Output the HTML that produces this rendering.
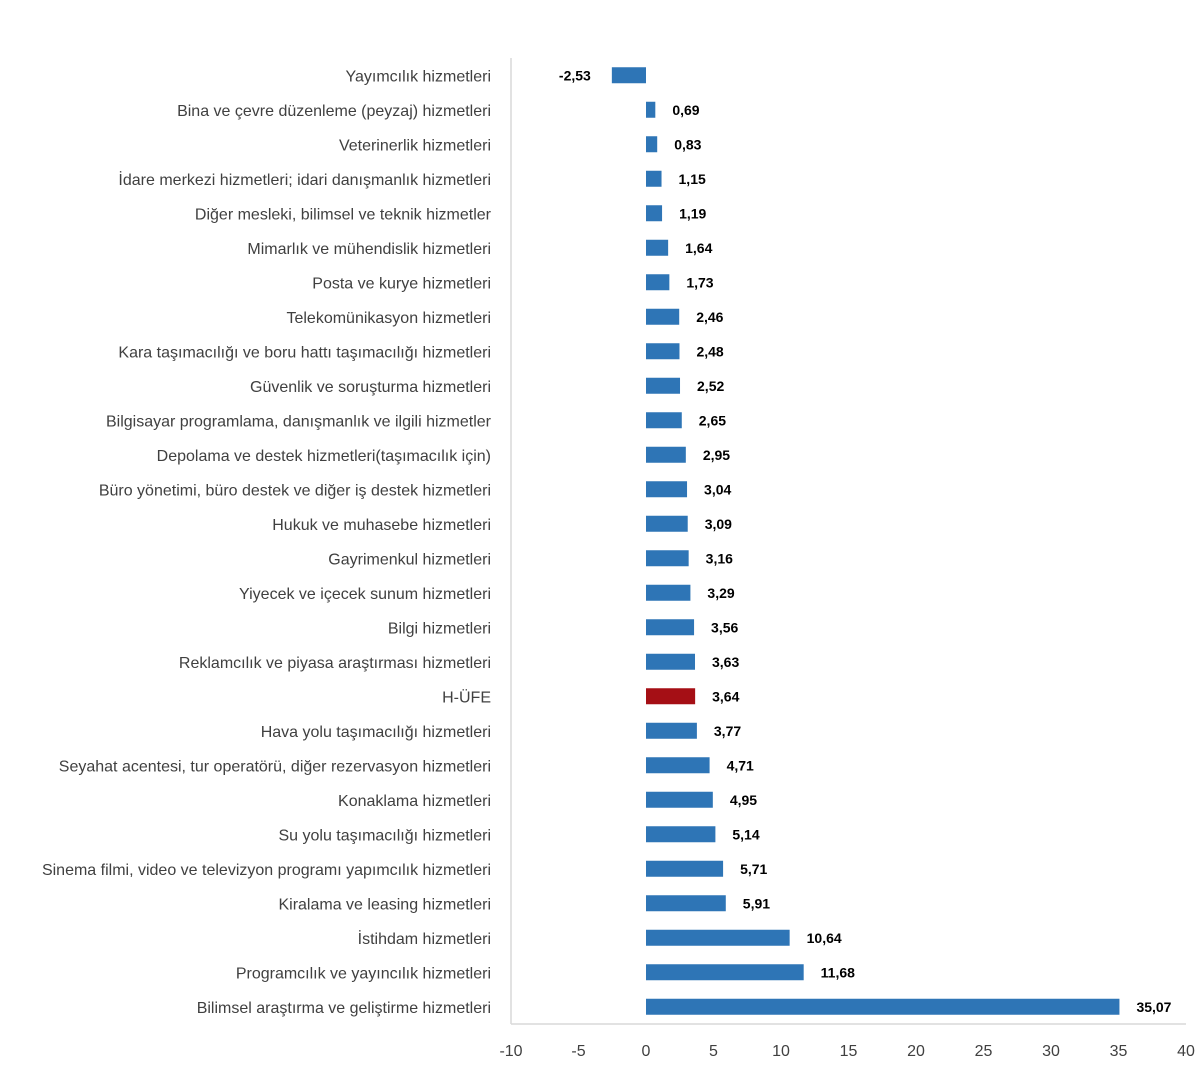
<!DOCTYPE html>
<html><head><meta charset="utf-8"><style>
body{margin:0;background:#fff;}
svg{display:block;font-family:"Liberation Sans",sans-serif;}
</style></head><body>
<svg id="chart" width="1200" height="1066">
<g id="axes"></g><g id="bars"></g>
</svg>
<script>
const categories=["Yayımcılık hizmetleri","Bina ve çevre düzenleme (peyzaj) hizmetleri","Veterinerlik hizmetleri","İdare merkezi hizmetleri; idari danışmanlık hizmetleri","Diğer mesleki, bilimsel ve teknik hizmetler","Mimarlık ve mühendislik hizmetleri","Posta ve kurye hizmetleri","Telekomünikasyon hizmetleri","Kara taşımacılığı ve boru hattı taşımacılığı hizmetleri","Güvenlik ve soruşturma hizmetleri","Bilgisayar programlama, danışmanlık ve ilgili hizmetler","Depolama ve destek hizmetleri(taşımacılık için)","Büro yönetimi, büro destek ve diğer iş destek hizmetleri","Hukuk ve muhasebe hizmetleri","Gayrimenkul hizmetleri","Yiyecek ve içecek sunum hizmetleri","Bilgi hizmetleri","Reklamcılık ve piyasa araştırması hizmetleri","H-ÜFE","Hava yolu taşımacılığı hizmetleri","Seyahat acentesi, tur operatörü, diğer rezervasyon hizmetleri","Konaklama hizmetleri","Su yolu taşımacılığı hizmetleri","Sinema filmi, video ve televizyon programı yapımcılık hizmetleri","Kiralama ve leasing hizmetleri","İstihdam hizmetleri","Programcılık ve yayıncılık hizmetleri","Bilimsel araştırma ve geliştirme hizmetleri"];
const values=[-2.53,0.69,0.83,1.15,1.19,1.64,1.73,2.46,2.48,2.52,2.65,2.95,3.04,3.09,3.16,3.29,3.56,3.63,3.64,3.77,4.71,4.95,5.14,5.71,5.91,10.64,11.68,35.07];
const ticks=[-10,-5,0,5,10,15,20,25,30,35,40];
const highlight="H-ÜFE";
const NS="http://www.w3.org/2000/svg";
const x0=511,x1=1186,xmin=-10,xmax=40;
const xs=v=>x0+(v-xmin)/(xmax-xmin)*(x1-x0);
const yTop=58,yBot=1024;
const band=(yBot-yTop)/categories.length;
const yc=i=>yTop+band*(i+0.5);
function mk(t,a,p){const e=document.createElementNS(NS,t);for(const k in a)e.setAttribute(k,a[k]);p.appendChild(e);return e;}
const ax=document.getElementById('axes'),bg=document.getElementById('bars');
let l=mk('line',{x1:x0,y1:yTop,x2:x0,y2:yBot,stroke:'#d9d9d9','stroke-width':1.5},ax);


l=mk('line',{x1:x0,y1:yBot,x2:x1,y2:yBot,stroke:'#d9d9d9','stroke-width':1.5},ax);


ticks.forEach(t=>{const e=mk('text',{x:xs(t),y:1056,'text-anchor':'middle','font-size':16,fill:'#404040'},ax);e.textContent=t;

});
categories.forEach((c,i)=>{
const y=yc(i),v=values[i];
const lab=mk('text',{x:491,y:y+6,'text-anchor':'end','font-size':16,fill:'#404040'},bg);lab.textContent=c;


const a=xs(Math.min(0,v)),b=xs(Math.max(0,v));
const r=mk('rect',{x:a,y:y-8,width:b-a,height:16,fill:c===highlight?'#a50f15':'#2e75b6'},bg);


const s=v.toFixed(2).replace('.',',');
const vt=mk('text',{x:v<0?a-21:b+17,y:y+5,'text-anchor':v<0?'end':'start','font-size':14,'font-weight':'bold',fill:'#000'},bg);vt.textContent=s;


});
</script>
</body></html>
